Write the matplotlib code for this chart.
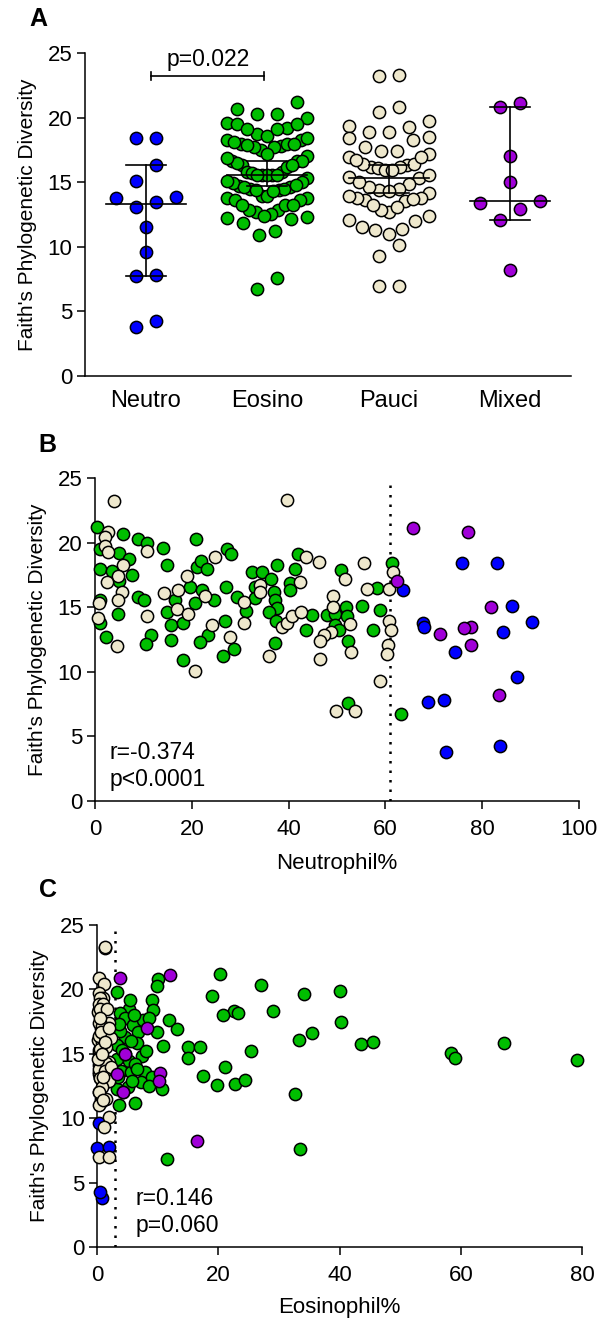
import math
import numpy as np
import matplotlib
matplotlib.use('Agg')
import matplotlib.pyplot as plt

plt.rcParams.update({
    'font.family': ['Liberation Sans', 'DejaVu Sans'],
    'font.size': 16,
    'axes.linewidth': 1.1,
    'xtick.major.width': 1.1,
    'ytick.major.width': 1.1,
    'xtick.major.size': 6,
    'ytick.major.size': 6,
    'xtick.major.pad': 7,
    'ytick.major.pad': 3,
    'axes.unicode_minus': False,
})

# ---------------------------------------------------------------
# data: Faith's PD, neutrophil %, eosinophil %
# ---------------------------------------------------------------
groups = ['Neutro', 'Eosino', 'Pauci', 'Mixed']

neutro_pd   = [16.35, 18.4, 18.45, 15.1, 13.85, 13.8, 13.45, 13.1, 11.5, 9.6, 7.7, 7.8, 3.8, 4.25]
neutro_neut = [63.7, 75.9, 83.1, 86.2, 90.2, 67.8, 68.0, 84.2, 74.3, 87.1, 68.8, 72.1, 72.5, 83.6]
neutro_eos  = [0.6, 0.5, 0.3, 0.2, 0.4, 0.8, 0.3, 0.5, 0.6, 0.2, 0.0, 1.9, 0.8, 0.45]

mixed_pd   = [21.15, 20.85, 17.0, 15.0, 13.5, 13.4, 12.9, 12.07, 8.2]
mixed_neut = [65.6, 77.1, 62.4, 81.8, 77.6, 76.2, 71.3, 77.6, 83.5]
mixed_eos  = [12.0, 3.7, 8.2, 4.6, 10.3, 3.3, 10.2, 4.3, 16.5]

eosino_neut = [0.5, 5.85, 8.95, 10.8, 14.1, 20.9, 1.0, 5.0, 7.1, 14.8,
               1.0, 3.45, 7.6, 5.0, 1.0, 8.95, 10.1, 4.8, 1.0, 2.3,
               11.5, 10.5, 14.9, 15.6, 15.8, 16.5, 18.25, 19.6, 21.0, 22.0,
               23.2, 27.2, 28.2, 22.2, 24.6, 20.6, 23.4, 21.6, 18.25, 27.1,
               26.9, 28.7, 26.5, 29.4, 31.2, 32.4, 34.6, 37.5, 42.0, 41.3,
               50.8, 61.3, 58.3, 36.3, 33.1, 33.1, 36.9, 37.2, 37.7, 35.9,
               37.4, 44.8, 40.3, 40.2, 43.6, 37.2, 51.8, 47.9, 49.6, 52.0,
               49.6, 50.5, 52.3, 55.1, 58.9, 57.4, 52.3, 63.3]
eosino_pd = [21.2, 20.7, 20.25, 19.95, 19.6, 20.25, 19.5, 19.2, 18.7, 18.27,
             17.96, 17.8, 17.5, 17.0, 15.56, 15.77, 15.56, 14.47, 13.8, 12.67,
             12.85, 12.15, 14.65, 13.6, 12.5, 15.56, 13.8, 16.6, 18.1, 18.6,
             17.95, 19.5, 19.1, 16.3, 15.56, 15.3, 12.85, 12.3, 10.9, 16.6,
             13.95, 11.8, 11.2, 15.8, 14.7, 17.75, 17.7, 18.27, 19.1, 17.96,
             17.9, 18.4, 16.45, 17.15, 16.6, 15.7, 16.2, 15.56, 14.9, 14.6,
             13.9, 14.4, 16.85, 16.3, 13.2, 12.2, 15.0, 14.4, 14.5, 14.3,
             13.6, 13.25, 12.4, 15.1, 14.8, 13.25, 7.6, 6.7]

# eosinophil panel, read separately for the eosinophilic group
eosino_eos_c = [20.3, 27.1, 40.1, 34.1, 18.9, 29.0, 22.5, 23.3, 20.8, 40.3,
                35.5, 33.3, 43.6, 45.5, 67.2, 58.3, 59.1, 79.1, 25.3, 15.0,
                17.0, 15.0, 21.1, 17.4, 19.8, 22.7, 24.4, 32.6, 33.5, 11.5,
                11.9, 13.1, 10.9, 10.6, 3.3, 5.3, 10.1, 9.9, 9.0, 9.2,
                3.7, 4.5, 5.9, 7.6, 8.5, 9.8, 6.8, 4.6, 6.6, 7.3,
                3.2, 5.2, 3.9, 5.6, 7.9, 7.2, 9.0, 3.2, 5.1, 3.6,
                6.2, 3.2, 4.1, 3.7, 5.4, 6.0, 3.5, 5.5, 8.0, 4.5,
                6.2, 3.4, 5.8, 8.5, 4.3, 6.5]
eosino_pd_c = [21.2, 20.35, 19.9, 19.65, 19.5, 18.3, 18.3, 18.15, 18.0, 17.5,
               16.65, 16.1, 15.75, 15.9, 15.8, 15.1, 14.66, 14.5, 15.2, 15.56,
               15.56, 14.66, 14.0, 13.3, 12.55, 12.65, 12.93, 11.87, 7.6, 6.8,
               17.6, 16.9, 15.6, 12.25, 19.76, 18.44, 20.77, 20.3, 19.16, 18.4,
               18.13, 17.8, 17.2, 17.6, 17.8, 16.7, 16.7, 16.27, 15.8, 14.8,
               15.7, 14.45, 13.7, 13.6, 13.6, 12.8, 13.2, 12.3, 12.4, 11.0,
               11.2, 14.6, 15.3, 16.8, 19.2, 18.0, 17.3, 16.0, 15.2, 15.0,
               14.2, 13.2, 12.9, 12.5, 12.0, 13.8]

pauci_neut = [3.9, 39.7, 2.75, 2.1, 2.1, 2.75, 10.8, 5.85, 4.8, 2.4,
              5.5, 0.9, 4.8, 10.8, 0.7, 4.5, 14.25, 17.2, 17.0, 19.1,
              24.8, 22.7, 19.3, 24.1, 20.7, 27.8, 30.7, 30.7, 43.6, 46.3,
              51.6, 55.6, 61.5, 60.8, 56.3, 34.1, 34.1, 38.6, 39.7, 40.6,
              42.5, 42.3, 35.9, 49.2, 49.2, 52.7, 48.7, 47.3, 46.5, 52.8,
              46.5, 60.8, 61.1, 60.6, 60.4, 58.9, 49.7, 53.7]
pauci_pd = [23.25, 23.3, 20.85, 20.4, 19.75, 19.3, 19.35, 18.27, 17.4, 16.97,
            16.2, 15.3, 15.56, 14.35, 14.14, 12.0, 16.07, 16.3, 14.86, 17.4,
            18.9, 15.9, 14.47, 13.6, 10.1, 12.7, 15.4, 13.8, 18.9, 18.47,
            17.15, 18.45, 17.75, 16.37, 16.4, 16.7, 16.2, 13.5, 13.8, 14.3,
            14.6, 16.97, 11.25, 15.9, 15.0, 13.7, 13.1, 12.85, 12.4, 11.5,
            11.0, 13.95, 13.2, 12.07, 11.4, 9.3, 6.95, 6.97]
pauci_eos = [1.3, 1.3, 0.3, 1.1, 0.2, 1.0, 0.5, 0.1, 2.0, 0.6,
             0.9, 0.2, 1.5, 2.0, 0.3, 0.2, 0.1, 1.7, 0.4, 0.3,
             0.2, 0.7, 1.0, 0.3, 2.0, 1.1, 0.5, 1.8, 0.9, 0.4,
             0.8, 1.6, 0.5, 0.2, 1.2, 0.6, 2.2, 0.7, 0.2, 1.4,
             0.1, 1.9, 0.6, 1.3, 0.8, 1.2, 0.4, 1.9, 0.8, 1.5,
             0.3, 2.3, 0.9, 0.2, 1.0, 1.1, 0.2, 1.9]

neut_cut = 61
eos_cut = 3
stats_b = 'r=-0.374\np<0.0001'
stats_c = 'r=0.146\np=0.060'
p_ab = 'p=0.022'

BLUE = '#0000FF'
GREEN = '#00BE00'
BEIGE = '#EEE8CD'
PURPLE = '#A000D8'
MS = 78
EW = 1.1

W, H, DPI = 601, 1322, 100
fig = plt.figure(figsize=(W / DPI, H / DPI), dpi=DPI)


def axes_px(left, top, right, bottom):
    return fig.add_axes([left / W, 1 - bottom / H, (right - left) / W, (bottom - top) / H])


def style(ax):
    for s in ('top', 'right'):
        ax.spines[s].set_visible(False)
    ax.set_ylim(0, 25)
    ax.set_yticks(range(0, 26, 5))
    ax.set_ylabel("Faith's Phylogenetic Diversity", fontsize=15, labelpad=8)


def row_scatter(ax, center, vals, row_h=1.45, gap=20, half_w=40):
    # GraphPad-like layout: values grouped into rows, spread symmetrically,
    # larger values of a row pushed to the outside
    ppu = ax.transData.transform((1, 0))[0] - ax.transData.transform((0, 0))[0]
    order = np.argsort(vals)
    xs = np.zeros(len(vals))
    rows, cur = [], [order[0]]
    for i in order[1:]:
        if vals[i] - vals[cur[0]] <= row_h:
            cur.append(i)
        else:
            rows.append(cur)
            cur = [i]
    rows.append(cur)
    for r in rows:
        n = len(r)
        sp = gap if n < 2 else min(gap, 2 * half_w / (n - 1))
        offs = (np.arange(n) - (n - 1) / 2) * sp
        offs = sorted(offs, key=lambda o: (round(abs(o), 6), o))
        for idx, o in zip(r, offs):
            xs[idx] = center + o / ppu
    return xs


def median_ci(vals):
    s = np.sort(vals)
    n = len(s)
    cdf, k = 0.0, 0
    while cdf + math.comb(n, k) / 2 ** n <= 0.025:
        cdf += math.comb(n, k) / 2 ** n
        k += 1
    return np.median(s), s[k - 1], s[n - k]


# ---------------------------------------------------------------
# A: scatter by phenotype, median with 95% CI
# ---------------------------------------------------------------
axA = axes_px(85, 53, 571, 375.7)
style(axA)
axA.set_xlim(-0.5, 3.5)
axA.set_xticks(range(4))
axA.set_xticklabels(groups, fontsize=17)
axA.tick_params(axis='x', length=0, pad=10)

group_data = [(neutro_pd, BLUE), (eosino_pd, GREEN), (pauci_pd, BEIGE), (mixed_pd, PURPLE)]
for i, (vals, col) in enumerate(group_data):
    vals = np.asarray(vals)
    xs = row_scatter(axA, i, vals)
    axA.scatter(xs, vals, s=MS, c=col, edgecolors='black', linewidths=EW, zorder=3, clip_on=False)
    med, lo, hi = median_ci(vals)
    axA.plot([i - 0.33, i + 0.33], [med, med], color='black', lw=1.2, zorder=4)
    axA.plot([i - 0.165, i + 0.165], [lo, lo], color='black', lw=1.2, zorder=4)
    axA.plot([i - 0.165, i + 0.165], [hi, hi], color='black', lw=1.2, zorder=4)
    axA.plot([i, i], [lo, hi], color='black', lw=1.2, zorder=4)

by = 23.2
axA.plot([0.04, 0.975], [by, by], color='black', lw=1.2, clip_on=False)
for xb in (0.04, 0.975):
    axA.plot([xb, xb], [by - 0.3, by + 0.3], color='black', lw=1.2, clip_on=False)
axA.text(0.51, 24.5, p_ab, ha='center', va='center', fontsize=16.5)

# ---------------------------------------------------------------
# B: Faith's PD vs neutrophil %
# ---------------------------------------------------------------
axB = axes_px(95, 478, 579, 801)
style(axB)
axB.set_xlim(0, 100)
axB.set_xticks(range(0, 101, 20))
axB.set_xlabel('Neutrophil%', fontsize=16, labelpad=9)
axB.plot([neut_cut, neut_cut], [0, 25], color='black', lw=1.8, ls=(0, (1, 2.8)), zorder=2)
for x, y, col in [(eosino_neut, eosino_pd, GREEN), (pauci_neut, pauci_pd, BEIGE),
                  (neutro_neut, neutro_pd, BLUE), (mixed_neut, mixed_pd, PURPLE)]:
    axB.scatter(x, y, s=MS, c=col, edgecolors='black', linewidths=EW, zorder=3, clip_on=False)
axB.text(3, 0.8, stats_b, ha='left', va='bottom', fontsize=16.5, linespacing=1.2)

# ---------------------------------------------------------------
# C: Faith's PD vs eosinophil %
# ---------------------------------------------------------------
axC = axes_px(97.3, 925, 582, 1247)
style(axC)
axC.set_xlim(0, 80)
axC.set_xticks(range(0, 81, 20))
axC.set_xlabel('Eosinophil%', fontsize=16, labelpad=8)
axC.plot([eos_cut, eos_cut], [0, 25], color='black', lw=1.8, ls=(0, (1, 2.8)), zorder=2)
for x, y, col in [(eosino_eos_c, eosino_pd_c, GREEN), (neutro_eos, neutro_pd, BLUE),
                  (pauci_eos, pauci_pd, BEIGE), (mixed_eos, mixed_pd, PURPLE)]:
    axC.scatter(x, y, s=MS, c=col, edgecolors='black', linewidths=EW, zorder=3, clip_on=False)
axC.text(6.3, 0.8, stats_c, ha='left', va='bottom', fontsize=16.5, linespacing=1.2)

# panel letters
for lab, (px, py) in zip('ABC', [(38, 19), (47, 445), (48, 890)]):
    fig.text(px / W, 1 - py / H, lab, fontsize=18, fontweight='bold', ha='center', va='center')

fig.savefig('out.png', dpi=DPI)
